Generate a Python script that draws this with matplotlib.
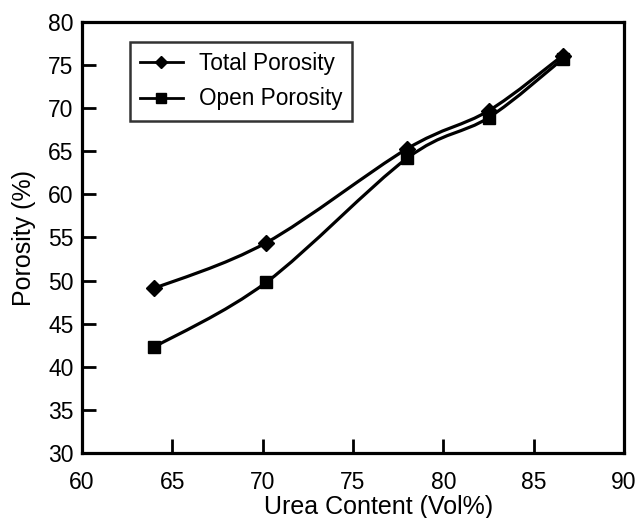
import numpy as np
from matplotlib import pyplot as plt
from matplotlib.path import Path
from matplotlib.patches import PathPatch
from matplotlib.lines import Line2D

plt.rcParams['font.family'] = ['Liberation Sans', 'DejaVu Sans']

urea = [64.0, 70.2, 78.0, 82.5, 86.6]
total_porosity = [49.1, 54.4, 65.3, 69.7, 76.1]
open_porosity = [42.3, 49.8, 64.2, 68.9, 75.7]

def smooth_path(x, y, t=0.5):
    # Catmull-Rom style bezier through the points (like a smoothed line in the source)
    pts = np.column_stack([x, y])
    verts = [pts[0]]
    codes = [Path.MOVETO]
    n = len(pts)
    for i in range(n - 1):
        p0 = pts[i - 1] if i > 0 else pts[i]
        p1 = pts[i]
        p2 = pts[i + 1]
        p3 = pts[i + 2] if i + 2 < n else pts[i + 1]
        c1 = p1 + (p2 - p0) * t / 3
        c2 = p2 - (p3 - p1) * t / 3
        verts += [c1, c2, p2]
        codes += [Path.CURVE4] * 3
    return Path(verts, codes)

fig = plt.figure(figsize=(6.38, 5.18), dpi=100)
ax = fig.add_axes([82 / 638, 1 - 453 / 518, 542 / 638, 431 / 518])

for ys, mk, ms in [(total_porosity, 'D', 8), (open_porosity, 's', 9)]:
    ax.add_patch(PathPatch(smooth_path(urea, ys), fill=False, lw=2.3, edgecolor='black'))
    ax.plot(urea, ys, linestyle='none', marker=mk, color='black', markersize=ms)

ax.set_xlim(60, 90)
ax.set_ylim(30, 80)
ax.set_xticks(range(60, 91, 5))
ax.set_yticks(range(30, 81, 5))
ax.tick_params(direction='in', length=10, width=2, labelsize=16.5)
ax.tick_params(axis='x', pad=13)
ax.tick_params(axis='y', pad=6)
for s in ax.spines.values():
    s.set_linewidth(2.3)
ax.set_xlabel('Urea Content (Vol%)', fontsize=18)
ax.xaxis.set_label_coords(0.548, -0.097, transform=ax.transAxes)
ax.xaxis.label.set_va('top')
ax.set_ylabel('Porosity (%)', fontsize=18, labelpad=9)

handles = [Line2D([], [], color='black', lw=2, marker='D', markersize=6.5),
           Line2D([], [], color='black', lw=2, marker='s', markersize=7)]
leg = ax.legend(handles, ['Total Porosity', 'Open Porosity'], loc='upper left',
                bbox_to_anchor=(0.088, 0.954), borderaxespad=0, fontsize=16.3, frameon=True,
                fancybox=False, edgecolor='black', handlelength=1.9, borderpad=0.45,
                labelspacing=0.55, handletextpad=0.7)
leg.get_frame().set_linewidth(1.8)

fig.savefig('out.png', dpi=100)
